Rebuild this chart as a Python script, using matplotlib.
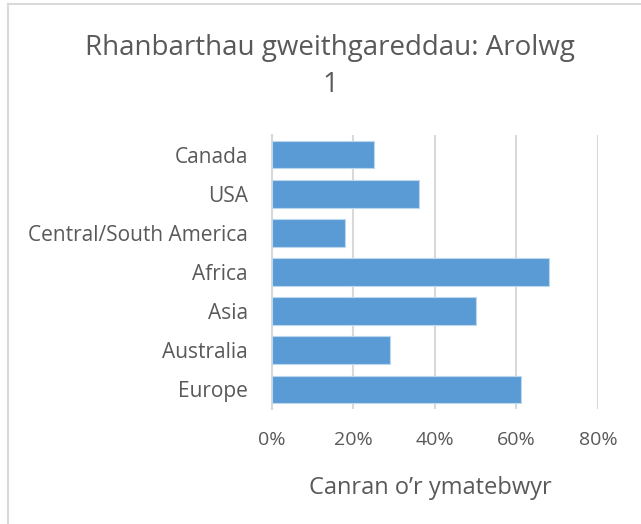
import matplotlib
matplotlib.use("Agg")
import matplotlib.pyplot as plt
from matplotlib.lines import Line2D

categories = ["Canada", "USA", "Central/South America", "Africa", "Asia", "Australia", "Europe"]
values = [25, 36, 18, 68, 50, 29, 61]
xticks = [0, 20, 40, 60, 80]
xtick_labels = ["0%", "20%", "40%", "60%", "80%"]
title_lines = ["Rhanbarthau gweithgareddau: Arolwg", "1"]
xlabel = "Canran o\u2019r ymatebwyr"

plt.rcParams['font.family'] = ['Open Sans', 'DejaVu Sans']
W, H = 641, 524
fig = plt.figure(figsize=(W / 100, H / 100), dpi=100)
fig.patch.set_facecolor('white')

x0, x1 = 271.7, 598.0
y0, y1 = 135.0, 409.0
ax = fig.add_axes([x0 / W, 1 - y1 / H, (x1 - x0) / W, (y1 - y0) / H])

ypos = list(range(len(categories)))
ax.barh(ypos, values, height=0.71, color='#5B9BD5', edgecolor='#BDD7EE', linewidth=0.8, zorder=3)
ax.set_ylim(len(categories) - 0.5, -0.5)
ax.set_xlim(0, 80)
ax.set_xticks(xticks)
ax.set_xticklabels(xtick_labels)
ax.set_yticks(ypos)
ax.set_yticklabels(categories)
ax.tick_params(axis='both', length=0, colors='#595959')
ax.tick_params(axis='x', pad=16, labelsize=14)
ax.tick_params(axis='y', pad=17, labelsize=15)
ax.xaxis.grid(True, color='#D9D9D9', linewidth=1.5, zorder=0)
for s in ['top', 'right', 'bottom']:
    ax.spines[s].set_visible(False)
ax.spines['left'].set_color('#D9D9D9')
ax.spines['left'].set_linewidth(1.5)

fig.text(330 / W, 1 - 48 / H, title_lines[0], ha='center', va='center', fontsize=20, color='#595959')
fig.text(330 / W, 1 - 85 / H, title_lines[1], ha='center', va='center', fontsize=20, color='#595959')
fig.text(430 / W, 1 - 488 / H, xlabel, ha='center', va='center', fontsize=17, color='#595959')

fig.add_artist(Line2D([8 / W, 8 / W], [0, 1 - 4 / H], transform=fig.transFigure, color='#D9D9D9', linewidth=1.5))
fig.add_artist(Line2D([8 / W, 1], [1 - 4 / H, 1 - 4 / H], transform=fig.transFigure, color='#D9D9D9', linewidth=1.5))

fig.savefig('out.png', dpi=100)
